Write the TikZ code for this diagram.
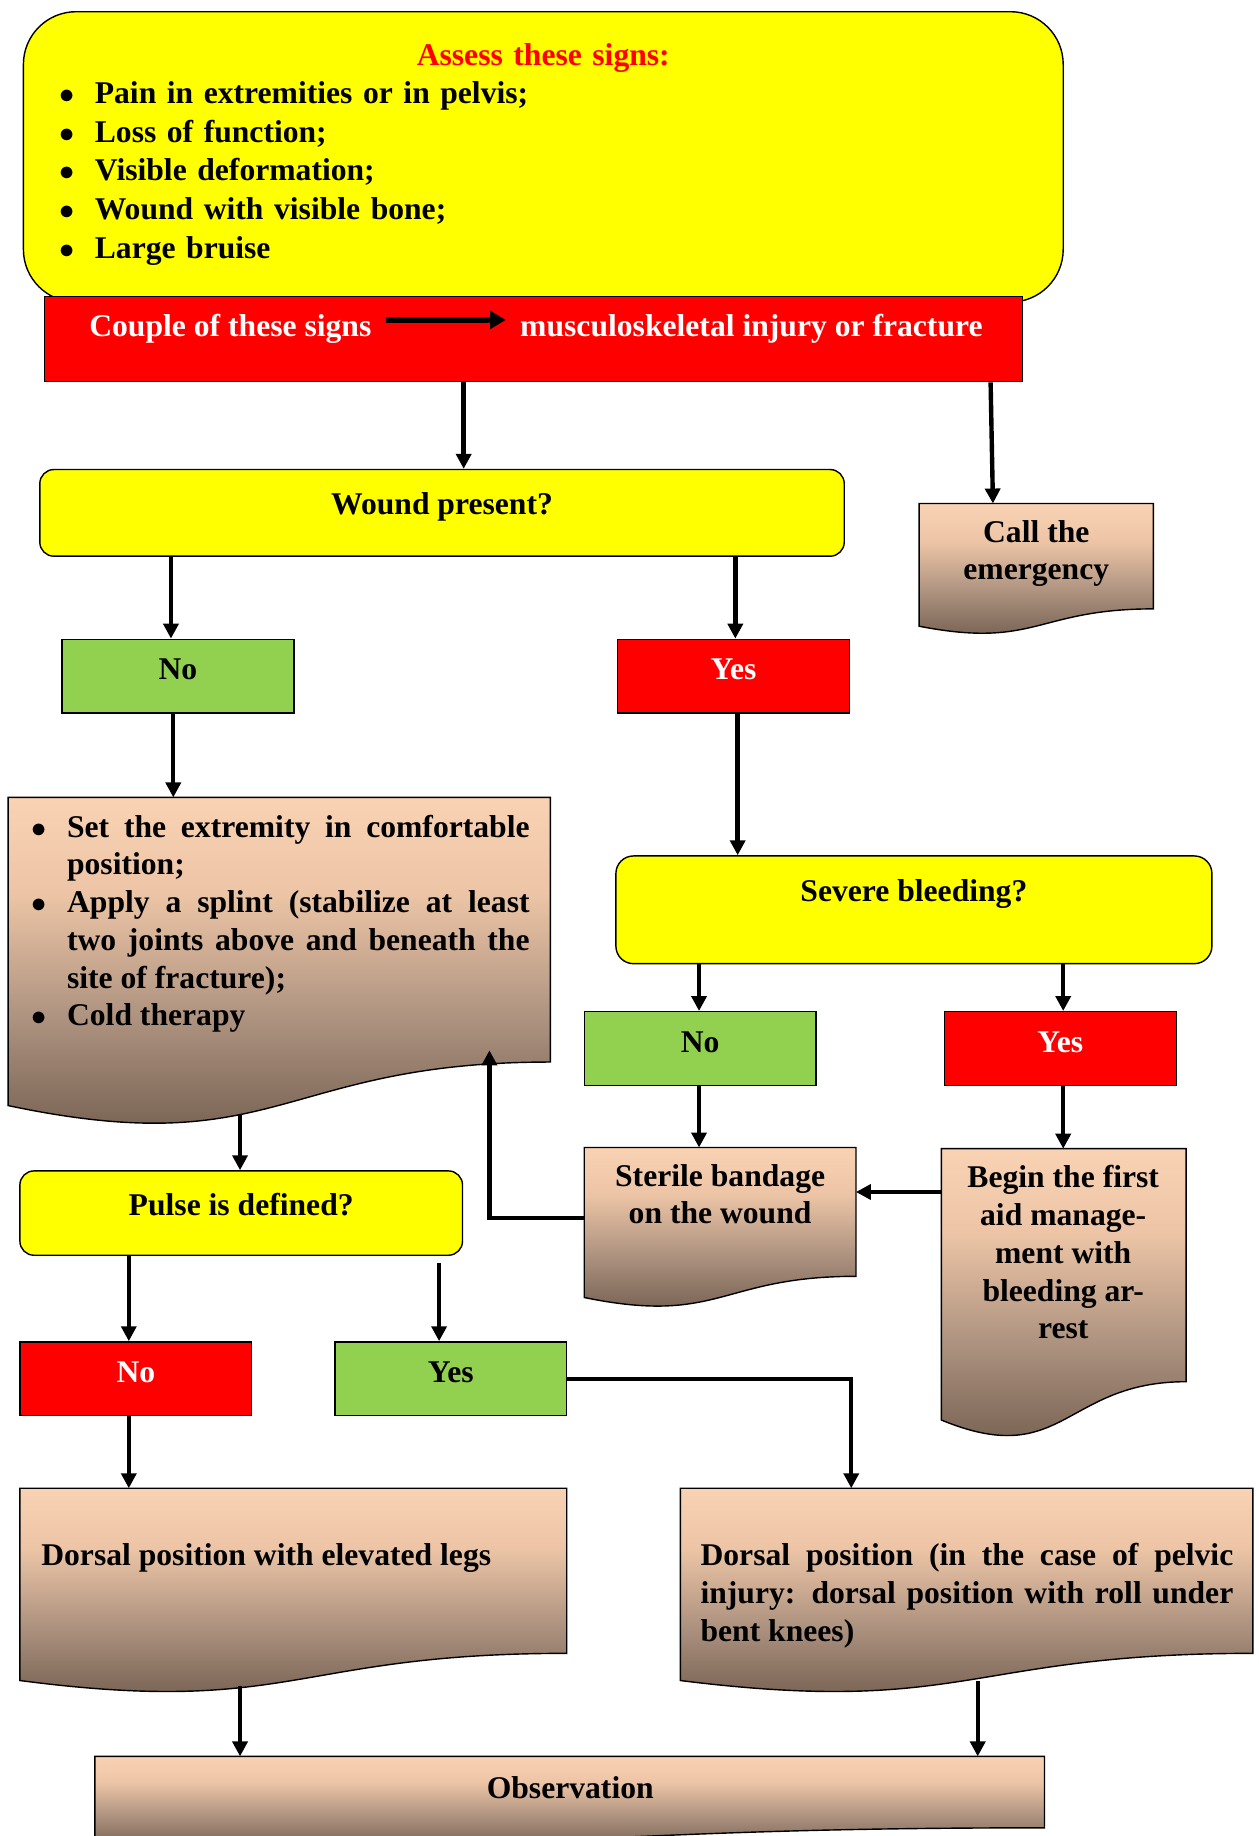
\documentclass[tikz,border=0pt]{standalone}
\usepackage{fontspec}
\setmainfont{Liberation Serif}
\usetikzlibrary{arrows.meta,calc}
\tolerance=9999
\hyphenpenalty=10000
\newlength\pxu
\setlength\pxu{0.023424cm}
\definecolor{signyellow}{HTML}{FFFF00}
\definecolor{alarmred}{HTML}{FF0000}
\definecolor{okgreen}{HTML}{92D050}
\definecolor{peach}{HTML}{F9D2B4}
\definecolor{peachmid}{HTML}{EDC5A6}
\definecolor{docmid}{HTML}{AE9380}
\definecolor{docbrown}{HTML}{745F50}
\pgfdeclareverticalshading{docshade}{100bp}{color(0bp)=(docbrown); color(28bp)=(docbrown); color(45bp)=(docmid); color(62bp)=(peachmid); color(75bp)=(peach); color(100bp)=(peach)}
\newcommand\docoutline[1]{%
  \path[docpath] (#1.north west) -- (#1.north east) -- (#1.south east)
    .. controls (#1.south) and ($(#1.north)!1.381!(#1.south)$)
    .. ($(#1.north west)!1.1646!(#1.south west)$) -- cycle;}

\begin{document}
\begin{tikzpicture}[
    x=\pxu, y=-\pxu,
    font=\fontsize{18}{21.5}\selectfont\bfseries,
    wh/.style 2 args={minimum width=#1\pxu, minimum height=#2\pxu},
    arr/.style={-{Triangle[length=8.5pt,width=8.5pt]}, line width=2.5pt},
    couplearr/.style={-{Triangle[length=9pt,width=10pt]}, line width=3.2pt},
    yesnobox/.style={draw, line width=0.8pt, wh={198}{63}, inner sep=0pt, text height=12pt, text depth=8pt},
    greenbox/.style={yesnobox, fill=okgreen},
    redbox/.style={yesnobox, fill=alarmred, text=white},
    askbox/.style={draw, line width=0.8pt, fill=signyellow, rounded corners=12\pxu, inner sep=0pt, text height=12pt},
    docbox/.style={inner sep=0pt, outer sep=0pt},
    docpath/.style={draw, line width=0.8pt, shade, shading=docshade},
    doctext/.style={inner sep=0pt, align=center}
]
    \path[fill=white, use as bounding box] (0,0) rectangle (1075,1568);

    \node[draw, line width=0.8pt, fill=signyellow, rounded corners=45\pxu, wh={888}{248}, text width=826\pxu, align=center] (signs) at (464,134)
        {\textcolor{alarmred}{Assess these signs:}\\
         {\def\arraystretch{1.03}\begin{tabular}[t]{@{}p{30\pxu}@{}p{796\pxu}@{}}
          $\bullet$ & Pain in extremities or in pelvis;\\
          $\bullet$ & Loss of function;\\
          $\bullet$ & Visible deformation;\\
          $\bullet$ & Wound with visible bone;\\
          $\bullet$ & Large bruise
         \end{tabular}}};
    \node[draw, line width=0.8pt, fill=alarmred, wh={835}{73}] (couple) at (455.5,289.5) {};
    \node[doctext, text=white, anchor=north west] (couplel) at (76,268) {Couple of these signs};
    \node[doctext, text=white, anchor=north west] (coupler) at (444,268) {musculoskeletal injury or fracture};

    \node[askbox, wh={687}{74}, text depth=10pt] (wound) at (377.5,438) {Wound present?};
    \node[docbox, wh={200}{90}] (call) at (885,475) {};
    \docoutline{call}
    \node[doctext, anchor=north] (calltxt) at (885,444) {Call the\\emergency};

    \node[greenbox] (no1) at (152,577.5) {No};
    \node[redbox] (yes1) at (626.5,577.5) {Yes};

    \node[docbox, wh={463}{226}] (set) at (238.5,794) {};
    \docoutline{set}
    \node[doctext, anchor=north west] (settxt) at (27,692)
        {\begin{tabular}[t]{@{}p{30\pxu}@{}p{395\pxu}@{}}
          $\bullet$ & Set the extremity in comfortable\linebreak position;\\
          $\bullet$ & Apply a splint (stabilize at least\linebreak two joints above and beneath the\linebreak site of fracture);\\
          $\bullet$ & Cold therapy
         \end{tabular}};

    \node[askbox, wh={509}{92}, rounded corners=15\pxu, text depth=22pt] (severe) at (780.5,777) {Severe bleeding?};
    \node[greenbox] (no2) at (598,895.5) {No};
    \node[redbox] (yes2) at (905.5,895.5) {Yes};

    \node[docbox, wh={232}{110}] (sterile) at (615,1035) {};
    \docoutline{sterile}
    \node[doctext, anchor=north] (steriletxt) at (615,994) {Sterile bandage\\on the wound};
    \node[docbox, wh={209}{199}] (begin) at (908.5,1080.5) {};
    \docoutline{begin}
    \node[doctext, anchor=north] (begintxt) at (908,995) {Begin the first\\aid manage-\\ment with\\bleeding ar-\\rest};

    \node[askbox, wh={378}{72}, text depth=9.5pt] (pulse) at (206,1036) {Pulse is defined?};
    \node[redbox] (no3) at (116,1177.5) {No};
    \node[greenbox] (yes3) at (385,1177.5) {Yes};

    \node[docbox, wh={467}{141}] (dorsalA) at (250.5,1341.5) {};
    \docoutline{dorsalA}
    \node[doctext, anchor=north west] (dorsalAtxt) at (35,1318) {Dorsal position with elevated legs};
    \node[docbox, wh={489}{141}] (dorsalB) at (825.5,1341.5) {};
    \docoutline{dorsalB}
    \node[doctext, anchor=north west, text width=455\pxu, align=justify] (dorsalBtxt) at (598,1318)
        {Dorsal position (in the case of pelvic\linebreak injury: dorsal position with roll under\linebreak bent knees)};

    \node[docbox, wh={811}{61}] (obs) at (486.5,1530.5) {};
    \docoutline{obs}
    \node[doctext, anchor=north] (obstxt) at (487,1517) {Observation};

    \coordinate (setout) at ($(set.north)!1.1945!(set.south)$);
    \coordinate (setin) at ($(set.south -| 418,0)+(0,-10)$);
    \coordinate (dorsalAout) at ($(dorsalA.north)!1.197!(dorsalA.south)$);
    \coordinate (dorsalBout) at ($(dorsalB.north)!1.17!(dorsalB.south)$);

    \draw[couplearr, shorten <=8pt, shorten >=8pt] ([yshift=5pt]couplel.east) -- ([yshift=5pt]coupler.west);
    \draw[arr] (couple.south -| 396,0) -- (wound.north -| 396,0);
    \draw[arr] (couple.south -| 846,0) -- (call.north -| 848,0);
    \draw[arr] (wound.south -| 146,0) -- (no1.north -| 146,0);
    \draw[arr] (wound.south -| 628,0) -- (yes1.north -| 628,0);
    \draw[arr] (no1.south -| 148,0) -- (set.north -| 148,0);
    \draw[arr] (yes1.south -| 630,0) -- (severe.north -| 630,0);
    \draw[arr] (severe.south -| 597,0) -- (no2.north -| 597,0);
    \draw[arr] (severe.south -| 908,0) -- (yes2.north -| 908,0);
    \draw[arr] (no2.south -| 597,0) -- (sterile.north -| 597,0);
    \draw[arr] (yes2.south -| 908,0) -- (begin.north -| 908,0);
    \draw[arr] (begin.west |- 0,1018) -- (sterile.east |- 0,1018);
    \draw[arr] (sterile.west |- 0,1040) -| (setin);
    \draw[arr] (setout -| 205,0) -- (pulse.north -| 205,0);
    \draw[arr] (pulse.south -| 110,0) -- (no3.north -| 110,0);
    \draw[arr, shorten <=4pt] (pulse.south -| 375,0) -- (yes3.north -| 375,0);
    \draw[arr] (no3.south -| 110,0) -- (dorsalA.north -| 110,0);
    \draw[arr] (yes3.east) -| (dorsalB.north -| 727,0);
    \draw[arr] (dorsalAout -| 205,0) -- (obs.north -| 205,0);
    \draw[arr] (dorsalBout -| 835,0) -- (obs.north -| 835,0);
\end{tikzpicture}
\end{document}
